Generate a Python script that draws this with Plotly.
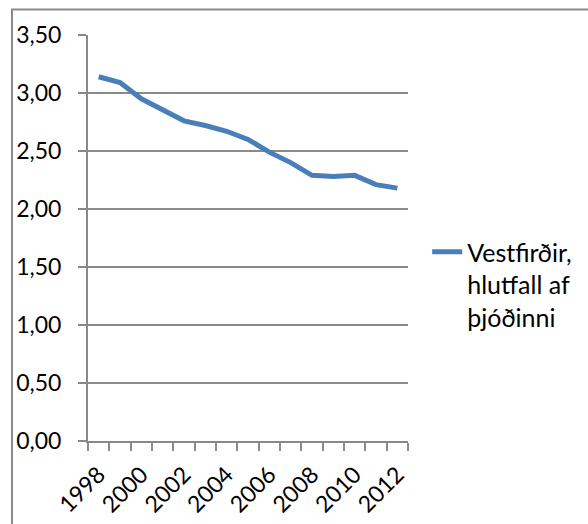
import plotly.graph_objects as go

years = list(range(1998, 2013))
values = [3.14, 3.09, 2.95, 2.85, 2.76, 2.72, 2.67, 2.60, 2.49, 2.40, 2.29, 2.28, 2.29, 2.21, 2.18]
series_name = "Vestfirðir,<br>hlutfall af<br>þjóðinni"
x_tick_years = [1998, 2000, 2002, 2004, 2006, 2008, 2010, 2012]
y_ticks = [0, 0.5, 1.0, 1.5, 2.0, 2.5, 3.0, 3.5]

FONT = "Lato"
GRID = "#898989"
LINE_COLOR = "#4A7EBB"

fig = go.Figure()
fig.add_trace(go.Scatter(
    x=years, y=values, mode="lines", name=series_name,
    line=dict(color=LINE_COLOR, width=5),
))

fig.update_layout(
    width=588, height=524,
    margin=dict(l=88, r=180, t=35, b=83, autoexpand=False),
    paper_bgcolor="white", plot_bgcolor="white",
    separators=", ",
    font=dict(family=FONT, size=24, color="#000000"),
    showlegend=True,
    legend=dict(
        x=1.06, xanchor="left", y=0.522, yanchor="top",
        valign="top", font=dict(family=FONT, size=25, color="#000000"),
        bgcolor="rgba(0,0,0,0)", borderwidth=0,
    ),
    xaxis=dict(
        range=[1997.5, 2012.5], automargin=False,
        tickmode="array", tickvals=x_tick_years, ticktext=[str(y) for y in x_tick_years],
        tickangle=-45, ticks="", showgrid=False, zeroline=False,
        showline=True, linecolor=GRID, linewidth=2,
        tickfont=dict(family=FONT, size=23, color="#000000"),
        ticklabelstandoff=9,
        minor=dict(ticks="outside", tick0=1997.5, dtick=1, ticklen=8,
                   tickcolor=GRID, tickwidth=2, showgrid=False),
    ),
    yaxis=dict(
        range=[0, 3.5], automargin=False, tickmode="array", tickvals=y_ticks,
        tickformat=".2f", ticks="outside", ticklen=8, tickcolor=GRID, tickwidth=2,
        showgrid=True, gridcolor=GRID, gridwidth=2, zeroline=False,
        showline=True, linecolor=GRID, linewidth=2,
        tickfont=dict(family=FONT, size=23, color="#000000"),
        ticklabelstandoff=12,
    ),
    shapes=[dict(
        type="rect", xref="paper", yref="paper",
        x0=(12 - 88) / 320, x1=2.0, y0=-1.0, y1=1 + (35 - 9.5) / 406,
        line=dict(color="#8a8a8a", width=2), fillcolor="rgba(0,0,0,0)", layer="below",
    )],
)

fig.write_html("out.html", config={"displayModeBar": False},
               post_script="document.body.style.margin='0';")
